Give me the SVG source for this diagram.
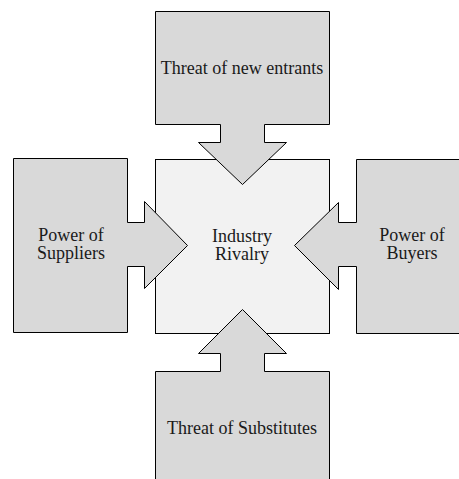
<svg xmlns="http://www.w3.org/2000/svg" width="459" height="479" viewBox="0 0 459 479">
  <style>
    .force { fill: #d9d9d9; stroke: #000; stroke-width: 1; stroke-linejoin: miter; }
    .core { fill: #f2f2f2; stroke: #000; stroke-width: 1; }
    .label { font-family: 'Liberation Serif', 'Times New Roman', 'DejaVu Serif', Times, serif; font-size: 18px; fill: #1a1a1a; text-anchor: middle; }
  </style>
  <rect width="459" height="479" fill="#fff"/>

  <!-- central box -->
  <g id="industry-rivalry">
    <rect class="core" x="155.5" y="159.5" width="174" height="174"/>
    <text class="label" x="242" y="242">Industry</text>
    <text class="label" x="242" y="260">Rivalry</text>
  </g>

  <!-- each force is a box with an arrow pushing into the centre -->
  <g id="connectors">
    <g id="new-entrants">
      <path class="force" d="M155.5,11.5 H329.5 V124.5 H264.5 V142.5 H286.5 L242.5,184.5 L198.5,142.5 H220.5 V124.5 H155.5 Z"/>
      <text class="label" x="242" y="73.5">Threat of new entrants</text>
    </g>
    <g id="substitutes">
      <path class="force" d="M155.5,482 V371.5 H220.5 V353.5 H198.5 L242.5,309.5 L286.5,353.5 H264.5 V371.5 H329.5 V482"/>
      <text class="label" x="242" y="433.5">Threat of Substitutes</text>
    </g>
    <g id="suppliers">
      <path class="force" d="M13.5,158.5 H127.5 V222.5 H144.5 V201.5 L187.5,245.5 L144.5,288.5 V266.5 H127.5 V332.5 H13.5 Z"/>
      <text class="label" x="71" y="241">Power of</text>
      <text class="label" x="71" y="258.5">Suppliers</text>
    </g>
    <g id="buyers">
      <path class="force" d="M462,159.5 H356.5 V222.5 H338.5 V202.5 L294.5,245.5 L338.5,289.5 V266.5 H356.5 V333.5 H462"/>
      <text class="label" x="412" y="241">Power of</text>
      <text class="label" x="412" y="258.5">Buyers</text>
    </g>
  </g>
</svg>
